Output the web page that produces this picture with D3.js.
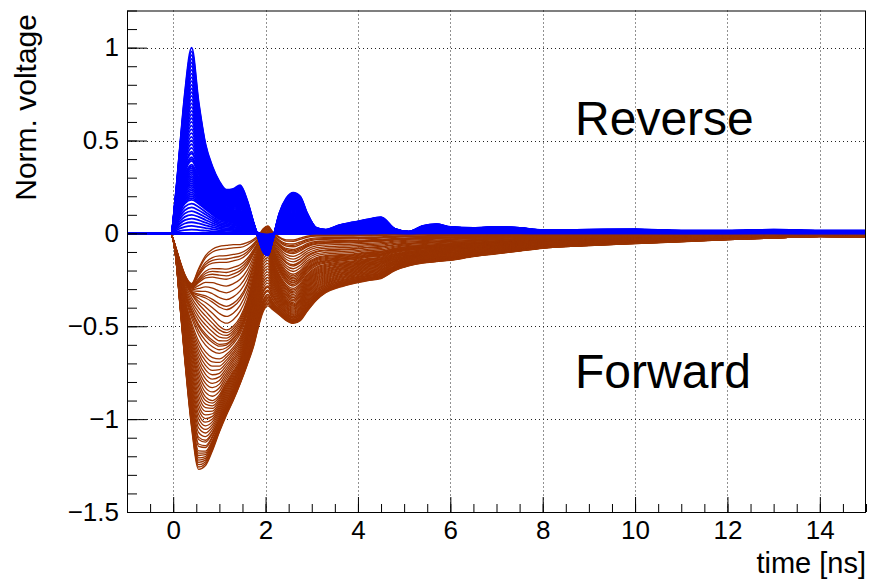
<!DOCTYPE html>
<html>
<head>
<meta charset="utf-8">
<script src="https://cdn.jsdelivr.net/npm/d3@7"></script>
<style>
  html, body { margin: 0; padding: 0; background: #fff; }
  svg { display: block; }
  text { font-family: "Liberation Sans", Arial, Helvetica, sans-serif; }
</style>
</head>
<body>
<script>
// Sampling times of the digitised waveforms [ns]
const times = [-1, -0.05, 0.05, 0.15, 0.25, 0.4, 0.55, 0.7, 0.85, 1.0, 1.15, 1.3, 1.45, 1.6,
  1.75, 1.85, 1.95, 2.05, 2.15, 2.3, 2.45, 2.6, 2.75, 2.9, 3.1, 3.3, 3.6, 3.9, 4.2, 4.5,
  4.8, 5.1, 5.4, 5.7, 6.0, 6.5, 7.0, 7.5, 8, 9, 10, 11, 12, 13, 14, 15];

// Reverse-bias reference waveforms (normalised voltage), largest to flat
const reverseLarge = [0, 0, 0.2, 0.48, 0.75, 1.0, 0.71, 0.48, 0.36, 0.28, 0.235, 0.24, 0.26, 0.18,
  0.05, -0.03, -0.1, -0.12, -0.04, 0.11, 0.19, 0.22, 0.2, 0.11, 0.03, 0.02, 0.045, 0.06, 0.075, 0.088,
  0.025, 0.01, 0.04, 0.05, 0.035, 0.03, 0.035, 0.03, 0.018, 0.02, 0.022, 0.015, 0.015, 0.02, 0.015, 0.015];
const reverseMedium = [0, 0, 0.12, 0.3, 0.45, 0.55, 0.44, 0.32, 0.245, 0.19, 0.16, 0.15, 0.15, 0.1,
  0.03, -0.02, -0.07, -0.09, -0.03, 0.06, 0.11, 0.13, 0.12, 0.06, 0.02, 0.01, 0.025, 0.035, 0.045, 0.05,
  0.015, 0.005, 0.025, 0.03, 0.02, 0.018, 0.02, 0.018, 0.01, 0.012, 0.012, 0.008, 0.008, 0.01, 0.008, 0.008];
const reverseSmall = [0, 0, 0.06, 0.12, 0.16, 0.18, 0.16, 0.13, 0.1, 0.075, 0.065, 0.055, 0.045, 0.035,
  0.02, 0.0, -0.03, -0.05, -0.01, 0.01, 0.025, 0.035, 0.03, 0.015, 0.005, 0.003, 0.005, 0.006, 0.008, 0.01,
  0.004, 0.002, 0.005, 0.006, 0.004, 0.004, 0.004, 0.004, 0.003, 0.003, 0.003, 0.002, 0.002, 0.003, 0.002, 0.002];
const reverseFlat = [0, 0, 0, 0, 0, 0, 0, 0, 0, 0, 0, 0, 0, 0, 0, 0, 0, 0, 0, 0, 0, 0, 0,
  0, 0, 0, 0, 0, 0, 0, 0, 0, 0, 0, 0, 0, 0, 0, 0, 0, 0, 0, 0, 0, 0, 0];
const reverseKeyPeaks = [0, 0.18, 0.55, 1.0];

// Forward-bias reference waveforms, shallowest to deepest
const forwardDeep = [-0.005, -0.005, -0.12, -0.4, -0.68, -1.05, -1.27, -1.25, -1.17, -1.07, -0.98, -0.9,
  -0.81, -0.71, -0.6, -0.5, -0.42, -0.39, -0.41, -0.44, -0.47, -0.485, -0.47, -0.42, -0.36, -0.32, -0.29,
  -0.27, -0.255, -0.243, -0.2, -0.175, -0.16, -0.152, -0.145, -0.125, -0.11, -0.095, -0.08, -0.066,
  -0.055, -0.045, -0.034, -0.025, -0.017, -0.02];
const forwardLarge = [-0.005, -0.005, -0.1, -0.28, -0.45, -0.65, -0.8, -0.88, -0.9, -0.87, -0.8, -0.74,
  -0.68, -0.56, -0.38, -0.24, -0.12, -0.1, -0.2, -0.3, -0.36, -0.38, -0.35, -0.29, -0.24, -0.22, -0.2,
  -0.19, -0.175, -0.165, -0.14, -0.125, -0.115, -0.105, -0.095, -0.085, -0.075, -0.065, -0.055, -0.045,
  -0.038, -0.03, -0.024, -0.018, -0.014, -0.014];
const forwardMedium = [-0.005, -0.005, -0.08, -0.18, -0.26, -0.33, -0.38, -0.42, -0.46, -0.5, -0.52, -0.5,
  -0.45, -0.36, -0.22, -0.12, -0.04, -0.02, -0.08, -0.15, -0.2, -0.22, -0.2, -0.16, -0.13, -0.12, -0.115,
  -0.11, -0.1, -0.095, -0.08, -0.07, -0.065, -0.06, -0.055, -0.05, -0.045, -0.04, -0.035, -0.03, -0.025,
  -0.02, -0.016, -0.012, -0.01, -0.01];
const forwardShallow = [-0.005, -0.005, -0.07, -0.15, -0.22, -0.27, -0.19, -0.12, -0.085, -0.07, -0.065,
  -0.06, -0.06, -0.05, -0.03, -0.01, 0.025, 0.04, 0.01, -0.02, -0.035, -0.035, -0.025, -0.015, -0.01,
  -0.01, -0.01, -0.01, -0.01, -0.008, -0.006, -0.006, -0.006, -0.005, -0.005, -0.005, -0.005, -0.005,
  -0.005, -0.005, -0.005, -0.005, -0.005, -0.005, -0.005, -0.005];
const forwardKeyDepths = [0.27, 0.52, 0.9, 1.28];

// Peak amplitude of every recorded trace
const reverseTracePeaks = [1.0, 0.98, 0.96, 0.94, 0.92, 0.9, 0.88, 0.86, 0.84, 0.82, 0.8, 0.78, 0.76,
  0.74, 0.72, 0.7, 0.68, 0.66, 0.64, 0.62, 0.6, 0.58, 0.56, 0.54, 0.52, 0.5, 0.48, 0.46, 0.44, 0.43,
  0.41, 0.4, 0.39, 0.37, 0.36, 0.35, 0.34, 0.33, 0.32, 0.31, 0.3, 0.29, 0.28, 0.27, 0.26, 0.25, 0.24,
  0.23, 0.22, 0.21, 0.2, 0.19, 0.18, 0.16, 0.14, 0.12, 0.1, 0.08, 0.06, 0.04, 0.02];
const forwardTraceDepths = [0.27, 0.28, 0.3, 0.31, 0.32, 0.34, 0.35, 0.36, 0.37, 0.39, 0.41, 0.43, 0.45,
  0.46, 0.48, 0.5, 0.52, 0.54, 0.56, 0.58, 0.6, 0.62, 0.63, 0.65, 0.67, 0.7, 0.72, 0.74, 0.76, 0.78,
  0.8, 0.82, 0.84, 0.86, 0.88, 0.9, 0.92, 0.94, 0.96, 0.98, 1.0, 1.02, 1.04, 1.06, 1.08, 1.1, 1.12,
  1.14, 1.15, 1.17, 1.18, 1.2, 1.21, 1.22, 1.23, 1.24, 1.25, 1.26, 1.27, 1.28];

// Axis ticks and labels
const xMajor = [0, 2, 4, 6, 8, 10, 12, 14];
const xMinor = d3.range(-1, 15.01, 0.5);
const yMajor = [-1.5, -1, -0.5, 0, 0.5, 1];
const yMinor = d3.range(-1.5, 1.201, 0.1);
const xTitle = "time [ns]";
const yTitle = "Norm. voltage";
const labels = [{ text: "Reverse", t: 8.7, v: 0.53 }, { text: "Forward", t: 8.7, v: -0.83 }];

const W = 870, H = 579;
const frame = { left: 127, right: 866, top: 10.5, bottom: 512 };
const x = d3.scaleLinear().domain([-1, 15]).range([frame.left, frame.right]);
const y = d3.scaleLinear().domain([-1.5, 1.2]).range([frame.bottom, frame.top]);

const svg = d3.select("body").append("svg").attr("width", W).attr("height", H);

// Build a trace of a given amplitude from the two neighbouring reference waveforms
function traceFor(level, keys, keyLevels) {
  let i = 0;
  while (i < keyLevels.length - 2 && level > keyLevels[i + 1]) i++;
  const w = (level - keyLevels[i]) / (keyLevels[i + 1] - keyLevels[i]);
  return times.map((t, j) => ({ t, v: keys[i][j] * (1 - w) + keys[i + 1][j] * w }));
}

const reverseKeys = [reverseFlat, reverseSmall, reverseMedium, reverseLarge];
const forwardKeys = [forwardShallow, forwardMedium, forwardLarge, forwardDeep];

const reverseTraces = reverseTracePeaks.map(p => traceFor(p, reverseKeys, reverseKeyPeaks));
const forwardTraces = forwardTraceDepths.map(d => traceFor(d, forwardKeys, forwardKeyDepths));

// Dotted grid
const grid = svg.append("g").attr("stroke", "#222").attr("stroke-width", 1)
  .attr("stroke-dasharray", "1,3");
grid.selectAll(".gx").data(xMajor).join("line")
  .attr("x1", d => Math.round(x(d)) + 0.5).attr("x2", d => Math.round(x(d)) + 0.5)
  .attr("y1", frame.top).attr("y2", frame.bottom);
grid.selectAll(".gy").data(yMajor.filter(d => d > -1.5)).join("line")
  .attr("y1", d => Math.round(y(d)) + 0.5).attr("y2", d => Math.round(y(d)) + 0.5)
  .attr("x1", frame.left).attr("x2", frame.right);

svg.append("clipPath").attr("id", "plot-clip").append("rect")
  .attr("x", frame.left).attr("y", frame.top)
  .attr("width", frame.right - frame.left).attr("height", frame.bottom - frame.top);

const line = d3.line().x(d => x(d.t)).y(d => y(d.v)).curve(d3.curveMonotoneX);
const plot = svg.append("g").attr("clip-path", "url(#plot-clip)");

// Zero level of the reverse traces
plot.append("line")
  .attr("x1", x(-1)).attr("x2", x(15)).attr("y1", y(0)).attr("y2", y(0))
  .attr("stroke", "#0000ff").attr("stroke-width", 3);

plot.append("g").selectAll("path").data(forwardTraces).join("path")
  .attr("d", line).attr("fill", "none").attr("stroke", "#993300").attr("stroke-width", 1.3);

plot.append("g").selectAll("path").data(reverseTraces).join("path")
  .attr("d", line).attr("fill", "none").attr("stroke", "#0000ff").attr("stroke-width", 1.8);

// Axes with ticks pointing into the frame
const fmt = d3.format("~g");
function styleAxis(g) {
  g.select(".domain").remove();
  g.selectAll(".tick line").attr("stroke", "#000");
  g.selectAll("text").attr("font-size", 26).attr("fill", "#000")
    .style("font-family", "'Liberation Sans', Arial, sans-serif");
}
svg.append("g").attr("transform", `translate(0,${frame.bottom})`)
  .call(d3.axisBottom(x).tickValues(xMinor).tickSizeInner(-8).tickSizeOuter(0).tickFormat(""))
  .call(styleAxis);
svg.append("g").attr("transform", `translate(0,${frame.bottom})`)
  .call(d3.axisBottom(x).tickValues(xMajor).tickSizeInner(-15).tickSizeOuter(0).tickPadding(9).tickFormat(fmt))
  .call(styleAxis);
svg.append("g").attr("transform", `translate(${frame.left},0)`)
  .call(d3.axisLeft(y).tickValues(yMinor).tickSizeInner(-10).tickSizeOuter(0).tickFormat(""))
  .call(styleAxis);
svg.append("g").attr("transform", `translate(${frame.left},0)`)
  .call(d3.axisLeft(y).tickValues(yMajor).tickSizeInner(-20).tickSizeOuter(0).tickPadding(8).tickFormat(fmt))
  .call(styleAxis);

// Frame
svg.append("rect")
  .attr("x", frame.left + 0.5).attr("y", frame.top + 0.5)
  .attr("width", frame.right - frame.left - 1).attr("height", frame.bottom - frame.top)
  .attr("fill", "none").attr("stroke", "#000").attr("stroke-width", 1);

// Titles
svg.append("text").attr("x", frame.right).attr("y", 573).attr("text-anchor", "end")
  .attr("font-size", 29).text(xTitle);
svg.append("text").attr("transform", "translate(36,14) rotate(-90)").attr("text-anchor", "end")
  .attr("font-size", 30).text(yTitle);

svg.selectAll(".family").data(labels).join("text")
  .attr("x", d => x(d.t)).attr("y", d => y(d.v))
  .attr("font-size", 48).attr("fill", "#000").text(d => d.text);
</script>
</body>
</html>
